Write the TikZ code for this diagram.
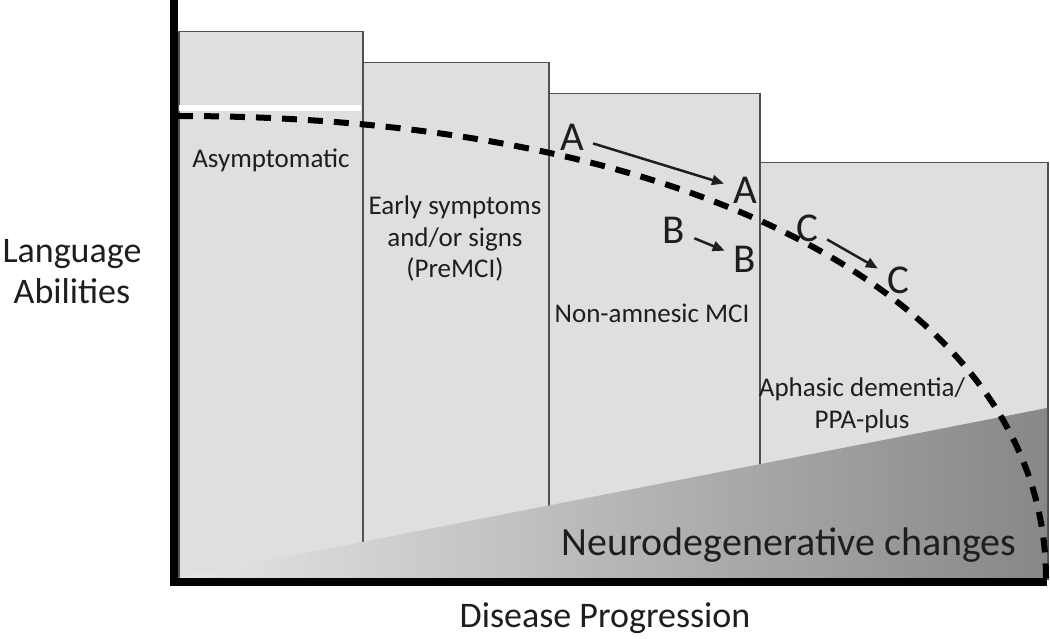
\documentclass[tikz,border=0pt]{standalone}
\usepackage{fontspec}
\setmainfont{Carlito}
\usetikzlibrary{arrows.meta}
\definecolor{barfill}{HTML}{DFDFDF}
\definecolor{barline}{HTML}{505050}
\definecolor{ink}{HTML}{1E1E1E}
\tikzstyle{bar}=[rectangle, fill=barfill, draw=barline, line width=1.5pt, inner sep=0pt, anchor=north west]
\tikzstyle{stagelabel}=[align=center, text=ink, inner sep=0pt, anchor=base, font=\fontsize{27}{31.5}\selectfont]
\tikzstyle{axislabel}=[align=center, text=ink, inner sep=0pt, anchor=base, font=\fontsize{36}{41}\selectfont]
\tikzstyle{caselabel}=[text=ink, inner sep=9pt, font=\fontsize{41}{41}\selectfont]
\tikzstyle{casearrow}=[-{Triangle[length=12pt,width=10pt]}, line width=2.5pt, draw=ink]
\tikzstyle{decline}=[draw=black, line width=6pt, dash pattern=on 15pt off 11pt]

\begin{document}
\begin{tikzpicture}[x=1pt, y=-1pt]
	\useasboundingbox (0,0) rectangle (1050,639);

	% stages
	\node[bar, minimum width=184pt, minimum height=547pt](asym) at (178,31){};
	\node[bar, minimum width=186pt, minimum height=516pt](premci) at (362,62){};
	\node[bar, minimum width=211pt, minimum height=485pt](mci) at (548,93){};
	\node[bar, minimum width=288pt, minimum height=416pt](dementia) at (759,162){};
	\fill[white] (179,105) rectangle (361,111);

	% neurodegeneration wedge
	\shade[left color=black!10, right color=black!47] (178,578) -- (1047,408) -- (1047,578) -- cycle;

	\node[stagelabel](asymlabel) at (271,168){Asymptomatic};
	\node[stagelabel](premcilabel) at (455,278){Early symptoms\\and/or signs\\(PreMCI)};
	\node[stagelabel](mcilabel) at (652,323){Non-amnesic MCI};
	\node[stagelabel](dementialabel) at (862,428){Aphasic dementia/\\PPA-plus};
	\node[text=ink, inner sep=0pt, anchor=base, font=\fontsize{40}{40}\selectfont](neuro) at (789,555){Neurodegenerative changes};

	\draw[decline] (178,116) .. controls (698,116) and (1045,302) .. (1046,578);

	\node[caselabel](a1) at (572,137){A};
	\node[caselabel](a2) at (745,190){A};
	\node[caselabel](b1) at (674,230){B};
	\node[caselabel](b2) at (745,259){B};
	\node[caselabel](c1) at (807,228){C};
	\node[caselabel](c2) at (898,280){C};
	\draw[casearrow] (a1) -- (a2);
	\draw[casearrow] (b1) -- (b2);
	\draw[casearrow] (c1) -- (c2);

	% axes
	\draw[line width=8pt] (174,0) -- (174,582) -- (1047,582);
	\node[axislabel](yaxis) at (72,303){Language\\Abilities};
	\node[axislabel](xaxis) at (605,627){Disease Progression};
\end{tikzpicture}
\end{document}
